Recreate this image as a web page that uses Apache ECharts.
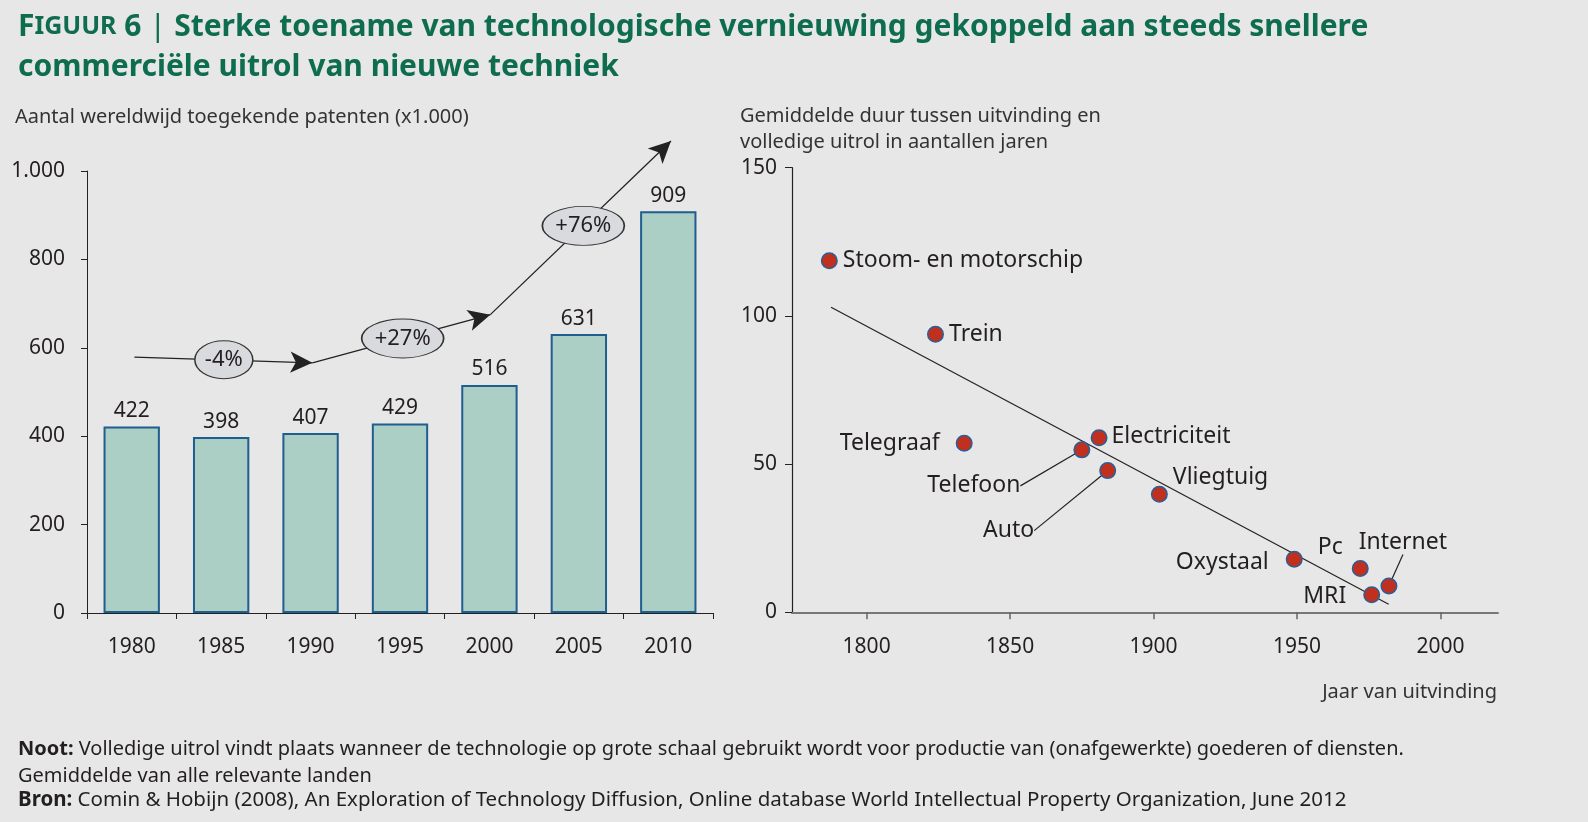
<!DOCTYPE html>
<html><head><meta charset="utf-8">
<script src="https://cdn.jsdelivr.net/npm/echarts@6/dist/echarts.min.js"></script>
<style>html,body{margin:0;padding:0;background:#e7e7e7;} #c{width:1588px;height:822px;}</style>
</head><body><div id="c"></div>
<script>
// ---- data ----
const years = ['1980','1985','1990','1995','2000','2005','2010'];
const patents = [422, 398, 407, 429, 516, 631, 909];
const growthLabels = ['-4%', '+27%', '+76%'];
const growthPos = [[1.03, 573], [3.03, 621], [5.05, 876]];
const arrowPath = [[0.03, 579], [2.02, 566], [4.01, 675], [6.03, 1068]];
const techNames = ['Stoom- en motorschip','Trein','Telegraaf','Electriciteit','Telefoon','Auto','Vliegtuig','Oxystaal','Pc','MRI','Internet'];
const techYear = [1787, 1824, 1834, 1881, 1875, 1884, 1902, 1949, 1972, 1976, 1982];
const techLag = [118.6, 93.8, 57.0, 58.9, 54.8, 47.8, 39.8, 17.9, 14.8, 5.9, 8.9];
const trend = [[1787.6, 102.9], [1981.9, 2.7]];
const yearTicks = [1800, 1850, 1900, 1950, 2000];

// ---- styles ----
const FONT = 'Noto Sans';
const TXT = '#231f20';
const GREEN = '#0f6d4f';
const ellipseSizes = [[58, 38], [82, 39], [82, 39]];
const techLabelStyle = [
  {position: 'right', distance: 5, move: [0, 0]},
  {position: 'right', distance: 5, move: [0, 0]},
  {position: 'left', distance: 16, move: [0, 0]},
  {position: 'right', distance: 4, move: [0, -1]},
  {position: 'left', distance: 5, move: [-48, 36], line: true},
  {position: 'left', distance: 5, move: [-60, 60], line: true},
  {position: 'right', distance: 5, move: [0, -17]},
  {position: 'left', distance: 17, move: [0, 3]},
  {position: 'left', distance: 9, move: [0, -21]},
  {position: 'left', distance: 17, move: [0, 2]},
  {position: 'top', distance: 5, move: [14, -18], line: true}
];

const chart = echarts.init(document.getElementById('c'), null, {renderer: 'canvas'});

const arrowSegs = [];
for (let i = 0; i < arrowPath.length - 1; i++) {
  arrowSegs.push([{coord: arrowPath[i]}, {coord: arrowPath[i + 1]}]);
}

const techData = techNames.map((n, i) => {
  const s = techLabelStyle[i];
  return {
    name: n,
    value: [techYear[i], techLag[i]],
    label: {show: true, position: s.position, distance: s.distance},
    labelLine: {show: !!s.line, lineStyle: {color: '#222', width: 1.2}}
  };
});

const option = {
  backgroundColor: '#e7e7e7',
  animation: false,
  textStyle: {fontFamily: FONT},
  grid: [
    {left: 87, top: 171, width: 626, height: 442, outerBoundsMode: 'none', containLabel: false},
    {left: 792, top: 167.7, right: 90, bottom: 209.7, outerBoundsMode: 'none', containLabel: false},
    {left: 87, top: 126.8, width: 626, height: 486.2, outerBoundsMode: 'none', containLabel: false, show: false}
  ],
  xAxis: [
    {
      type: 'category', gridIndex: 0, data: years,
      axisLine: {lineStyle: {color: '#222', width: 1}},
      axisTick: {show: true, length: 6, lineStyle: {color: '#222', width: 1}},
      axisLabel: {fontSize: 21, color: TXT, margin: 24, fontFamily: FONT},
      splitLine: {show: false}
    },
    {
      type: 'value', gridIndex: 1, min: 1774, max: 2020,
      axisLine: {show: true, onZero: false, lineStyle: {color: '#777', width: 2}},
      axisTick: {show: true, length: 7, customValues: yearTicks, lineStyle: {color: '#666', width: 1.5}},
      axisLabel: {fontSize: 21, color: TXT, margin: 24, fontFamily: FONT, customValues: yearTicks, formatter: v => String(v)},
      splitLine: {show: false}
    },
    {type: 'value', gridIndex: 2, min: -0.5, max: 6.5, show: false}
  ],
  yAxis: [
    {
      type: 'value', gridIndex: 0, min: 0, max: 1000, interval: 200,
      axisLine: {show: true, onZero: false, lineStyle: {color: '#222', width: 1}},
      axisTick: {show: true, length: 6, lineStyle: {color: '#222', width: 1}},
      axisLabel: {fontSize: 21, color: TXT, margin: 22, fontFamily: FONT,
        formatter: v => v >= 1000 ? (Math.floor(v / 1000) + '.' + String(v % 1000).padStart(3, '0')) : String(v)},
      splitLine: {show: false}
    },
    {
      type: 'value', gridIndex: 1, min: 0, max: 150, interval: 50,
      axisLine: {show: true, onZero: false, lineStyle: {color: '#222', width: 1.2}},
      axisTick: {show: true, length: 7, lineStyle: {color: '#222', width: 1}},
      axisLabel: {fontSize: 21, color: TXT, margin: 15, fontFamily: FONT},
      splitLine: {show: false}
    },
    {type: 'value', gridIndex: 2, min: 0, max: 1100, show: false}
  ],
  series: [
    {
      type: 'bar', xAxisIndex: 0, yAxisIndex: 0, data: patents, barWidth: '63%',
      itemStyle: {color: '#abcec5', borderColor: '#1f5e8f', borderWidth: 2},
      label: {show: true, position: 'top', distance: 5, fontSize: 21, color: TXT, fontFamily: FONT},
      z: 2
    },
    {
      type: 'scatter', xAxisIndex: 2, yAxisIndex: 2, clip: false, z: 10,
      data: growthPos.map((p, i) => ({name: growthLabels[i], value: p, symbolSize: ellipseSizes[i]})),
      symbol: 'circle',
      itemStyle: {color: '#d8dadd', borderColor: '#333', borderWidth: 1.2, opacity: 1},
      label: {show: true, position: 'inside', formatter: '{b}', fontSize: 22, color: TXT, fontFamily: FONT},
      emphasis: {disabled: true},
      markLine: {
        silent: true, z: 5,
        symbol: ['none', 'arrow'], symbolSize: [16, 22],
        lineStyle: {color: '#222', width: 1.3, type: 'solid'},
        label: {show: false},
        emphasis: {disabled: true},
        data: arrowSegs
      }
    },
    {
      type: 'line', xAxisIndex: 1, yAxisIndex: 1, data: trend, symbol: 'none',
      lineStyle: {color: '#222', width: 1.2}, z: 3, silent: true
    },
    {
      type: 'scatter', xAxisIndex: 1, yAxisIndex: 1, data: techData, z: 6,
      symbolSize: 15.5,
      itemStyle: {color: '#c1301f', borderColor: '#2a5f96', borderWidth: 1.5, opacity: 1},
      label: {show: true, formatter: '{b}', fontSize: 23, color: TXT, fontFamily: FONT},
      labelLayout: p => {
        const s = techLabelStyle[p.dataIndex];
        return {dx: s.move[0], dy: s.move[1]};
      },
      emphasis: {disabled: true}
    }
  ],
  graphic: [
    {
      type: 'text', x: 18, y: 27, silent: true,
      style: {
        text: '{f|F}{s|IGUUR}{f| 6 }{b||}{f| Sterke toename van technologische vernieuwing gekoppeld aan steeds snellere}',
        textAlign: 'left', textVerticalAlign: 'middle', align: 'left', verticalAlign: 'middle',
        rich: {
          f: {fontSize: 30, fontWeight: 'bold', fontFamily: FONT, fill: GREEN},
          s: {fontSize: 25, fontWeight: 'bold', fontFamily: FONT, fill: GREEN},
          b: {fontSize: 31, fontWeight: 'normal', fontFamily: FONT, fill: GREEN}
        }
      }
    },
    {
      type: 'text', x: 18, y: 67, silent: true,
      style: {text: 'commerciële uitrol van nieuwe techniek', fontSize: 30, fontWeight: 'bold', fontFamily: FONT, fill: GREEN,
        textAlign: 'left', textVerticalAlign: 'middle', align: 'left', verticalAlign: 'middle'}
    },
    {
      type: 'text', x: 15, y: 117, silent: true,
      style: {text: 'Aantal wereldwijd toegekende patenten (x1.000)', fontSize: 20, fontFamily: FONT, fill: '#333',
        textAlign: 'left', textVerticalAlign: 'middle', align: 'left', verticalAlign: 'middle'}
    },
    {
      type: 'text', x: 740, y: 116, silent: true,
      style: {text: 'Gemiddelde duur tussen uitvinding en', fontSize: 20, fontFamily: FONT, fill: '#333',
        textAlign: 'left', textVerticalAlign: 'middle', align: 'left', verticalAlign: 'middle'}
    },
    {
      type: 'text', x: 740, y: 142, silent: true,
      style: {text: 'volledige uitrol in aantallen jaren', fontSize: 20, fontFamily: FONT, fill: '#333',
        textAlign: 'left', textVerticalAlign: 'middle', align: 'left', verticalAlign: 'middle'}
    },
    {
      type: 'text', x: 1497, y: 692, silent: true,
      style: {text: 'Jaar van uitvinding', fontSize: 20, fontFamily: FONT, fill: '#333',
        textAlign: 'right', textVerticalAlign: 'middle', align: 'right', verticalAlign: 'middle'}
    },
    {
      type: 'text', x: 18, y: 749, silent: true,
      style: {text: '{b|Noot:} Volledige uitrol vindt plaats wanneer de technologie op grote schaal gebruikt wordt voor productie van (onafgewerkte) goederen of diensten.',
        fontSize: 20, fontFamily: FONT, fill: TXT, textAlign: 'left', textVerticalAlign: 'middle', align: 'left', verticalAlign: 'middle',
        rich: {b: {fontSize: 20, fontWeight: 'bold', fontFamily: FONT, fill: TXT}}}
    },
    {
      type: 'text', x: 18, y: 776, silent: true,
      style: {text: 'Gemiddelde van alle relevante landen', fontSize: 20, fontFamily: FONT, fill: TXT,
        textAlign: 'left', textVerticalAlign: 'middle', align: 'left', verticalAlign: 'middle'}
    },
    {
      type: 'text', x: 18, y: 800, silent: true,
      style: {text: '{b|Bron:} Comin & Hobijn (2008), An Exploration of Technology Diffusion, Online database World Intellectual Property Organization, June 2012',
        fontSize: 20.5, fontFamily: FONT, fill: TXT, textAlign: 'left', textVerticalAlign: 'middle', align: 'left', verticalAlign: 'middle',
        rich: {b: {fontSize: 20.5, fontWeight: 'bold', fontFamily: FONT, fill: TXT}}}
    }
  ]
};
chart.setOption(option);
</script>
</body></html>
